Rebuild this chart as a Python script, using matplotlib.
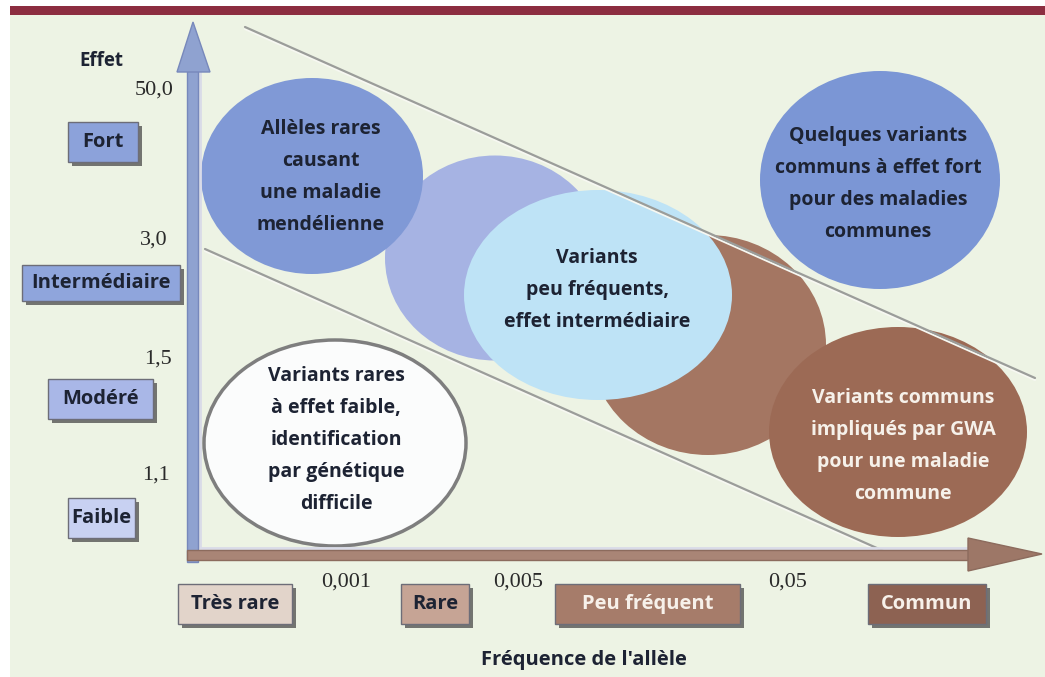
import matplotlib
matplotlib.use("Agg")
import matplotlib.pyplot as plt
from matplotlib.patches import Ellipse, Rectangle, Polygon

# ---------------- data (labels of the diagram) ----------------
effect_title = "Effet"
effect_levels = ["Fort", "Intermédiaire", "Modéré", "Faible"]
effect_ticks = ["50,0", "3,0", "1,5", "1,1"]
freq_title = "Fréquence de l'allèle"
freq_levels = ["Très rare", "Rare", "Peu fréquent", "Commun"]
freq_ticks = ["0,001", "0,005", "0,05"]
bubble_texts = [
    "Allèles rares\ncausant\nune maladie\nmendélienne",
    "Variants\npeu fréquents,\neffet intermédiaire",
    "Quelques variants\ncommuns à effet fort\npour des maladies\ncommunes",
    "Variants rares\nà effet faible,\nidentification\npar génétique\ndifficile",
    "Variants communs\nimpliqués par GWA\npour une maladie\ncommune",
]

# ---------------- layout (pixel coordinates) ----------------
W, H = 1045, 677
FONT = ["Open Sans", "DejaVu Sans"]
DARK = "#1d2333"

fig = plt.figure(figsize=(W / 100, H / 100), dpi=100)
ax = fig.add_axes([0, 0, 1, 1])
ax.set_xlim(0, W)
ax.set_ylim(H, 0)
ax.axis("off")
fig.patch.set_facecolor("white")

# background panel and top bar
ax.add_patch(Rectangle((10, 15), W - 10, H - 15, facecolor="#edf3e4", edgecolor="none", zorder=0))
ax.add_patch(Rectangle((10, 6), W - 10, 9, facecolor="#8c2d40", edgecolor="none", zorder=1))

# ---------------- bubbles ----------------
def ell(cx, cy, w, h, fc, z, ec="none", lw=0):
    ax.add_patch(Ellipse((cx, cy), w, h, facecolor=fc, edgecolor=ec, lw=lw, zorder=z))

ell(495, 258, 220, 205, "#a6b3e3", 2)          # lobe between rare & intermediate
ell(312, 176, 222, 196, "#8099d6", 3)          # Allèles rares
ell(708, 345, 236, 220, "#a47662", 2)          # brown lobe
ell(598, 295, 268, 210, "#bee3f6", 4)          # Variants peu fréquents
ell(898, 432, 258, 210, "#9c6a55", 3)          # Variants communs
ell(880, 180, 240, 218, "#7b96d5", 3)          # Quelques variants
ell(335, 443, 262, 206, "#fbfcfc", 4, ec="#7e7e7e", lw=2.5)  # Variants rares faible

# diagonal band lines
for (x0, y0, x1, y1) in [(245, 27, 1035, 378), (205, 249, 888, 553)]:
    ax.plot([x0, x1], [y0 + 2, y1 + 2], color="#f7f8f2", lw=1.5, zorder=5, solid_capstyle="round")
    ax.plot([x0, x1], [y0, y1], color="#9b9d9a", lw=1.6, zorder=5, solid_capstyle="round")

# bubble texts
text_pos = [(321, 177), (597, 290), (878, 184), (336, 440), (903, 446)]
text_col = [DARK, DARK, DARK, DARK, "#f6f1ea"]
for t, (x, y), c in zip(bubble_texts, text_pos, text_col):
    ax.text(x, y, t, ha="center", va="center", fontsize=14, fontweight="bold",
            family=FONT, color=c, linespacing=1.8, zorder=10)

# ---------------- axes arrows ----------------
ax.plot([200, 200, 990], [70, 548, 548], color="#d9dbe8", lw=2, zorder=6)
ax.add_patch(Rectangle((187, 68), 11, 494, facecolor="#8fa2d0", edgecolor="#7788bb", lw=1, zorder=7))
ax.add_patch(Polygon([(177, 72), (193, 22), (210, 72)], closed=True,
                     facecolor="#8fa2d0", edgecolor="#7788bb", lw=1, zorder=7))
ax.add_patch(Rectangle((187, 550), 785, 10, facecolor="#a98576", edgecolor="#8c6b5d", lw=1, zorder=7))
ax.add_patch(Polygon([(968, 538), (1042, 554), (968, 571)], closed=True,
                     facecolor="#9d7767", edgecolor="#8c6b5d", lw=1, zorder=7))

# ---------------- labels ----------------
ax.text(101, 61, effect_title, ha="center", va="center", fontsize=13.5, fontweight="bold",
        family=FONT, color=DARK, zorder=10)
ax.text(584, 660, freq_title, ha="center", va="center", fontsize=14.5, fontweight="bold",
        family=FONT, color=DARK, zorder=10)

def box(x0, y0, x1, y1, fc, label, tc, fs=14.5):
    ax.add_patch(Rectangle((x0 + 4, y0 + 4), x1 - x0, y1 - y0, facecolor="#4a4a4a",
                           edgecolor="none", alpha=0.75, zorder=7))
    ax.add_patch(Rectangle((x0, y0), x1 - x0, y1 - y0, facecolor=fc, edgecolor="#6d6d78",
                           lw=1, zorder=8))
    ax.text((x0 + x1) / 2, (y0 + y1) / 2, label, ha="center", va="center", fontsize=fs,
            fontweight="bold", family=FONT, color=tc, zorder=10)

effect_boxes = [(68, 122, 138, 162), (22, 265, 180, 301), (48, 379, 153, 419), (68, 498, 135, 538)]
effect_cols = ["#8ca2da", "#8fa5dc", "#a9b7e7", "#c8d1f2"]
for (x0, y0, x1, y1), c, lab in zip(effect_boxes, effect_cols, effect_levels):
    box(x0, y0, x1, y1, c, lab, DARK)

effect_tick_pos = [(174, 90), (168, 240), (172, 359), (170, 475)]
for (x, y), lab in zip(effect_tick_pos, effect_ticks):
    ax.text(x, y, lab, ha="right", va="center", fontsize=16, family="Liberation Serif",
            color="#2a2a2a", zorder=10)

freq_boxes = [(178, 584, 292, 624), (401, 584, 469, 624), (555, 584, 740, 624), (868, 584, 986, 624)]
freq_cols = ["#e2d4ca", "#c6a495", "#a67c6a", "#8d6252"]
freq_tcols = [DARK, DARK, "#f7f1ea", "#f7f1ea"]
for (x0, y0, x1, y1), c, tc, lab in zip(freq_boxes, freq_cols, freq_tcols, freq_levels):
    box(x0, y0, x1, y1, c, lab, tc)

freq_tick_pos = [(346, 582), (518, 582), (788, 582)]
for (x, y), lab in zip(freq_tick_pos, freq_ticks):
    ax.text(x, y, lab, ha="center", va="center", fontsize=16, family="Liberation Serif",
            color="#2a2a2a", zorder=10)

fig.savefig("out.png", dpi=100, facecolor="white")
